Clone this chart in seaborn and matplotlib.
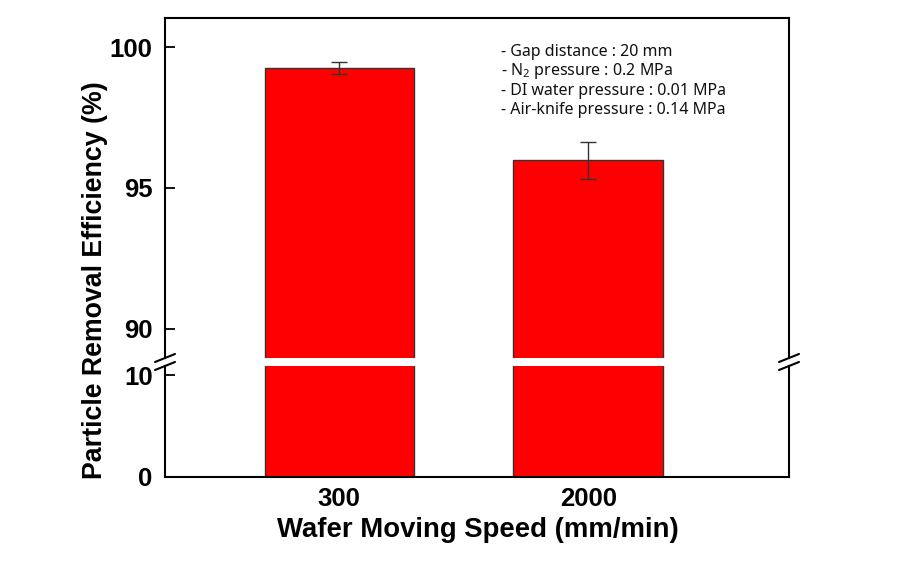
import matplotlib
matplotlib.use("Agg")
import matplotlib.pyplot as plt
import seaborn as sns
import pandas as pd
from matplotlib.lines import Line2D

# ---- data ----
speeds = ["300", "2000"]
efficiency = [99.26, 95.98]
errors = [0.22, 0.65]
upper_ticks = [90, 95, 100]
lower_ticks = [0, 10]
notes = ["- Gap distance : 20 mm",
         "- N$_2$ pressure : 0.2 MPa",
         "- DI water pressure : 0.01 MPa",
         "- Air-knife pressure : 0.14 MPa"]

sns.set_style("white")
plt.rcParams["font.family"] = ["Liberation Sans", "DejaVu Sans"]
plt.rcParams["mathtext.fontset"] = "custom"
plt.rcParams["mathtext.rm"] = "Noto Sans"
plt.rcParams["text.color"] = "black"
plt.rcParams["ytick.left"] = True
plt.rcParams["xtick.bottom"] = True
plt.rcParams["ytick.direction"] = "in"
plt.rcParams["xtick.direction"] = "in"
plt.rcParams["ytick.major.size"] = 7
plt.rcParams["ytick.major.width"] = 1.3
plt.rcParams["xtick.major.size"] = 7
plt.rcParams["xtick.major.width"] = 1.3
plt.rcParams["axes.axisbelow"] = False

df = pd.DataFrame({"speed": speeds, "eff": efficiency})

W, H = 916, 584
fig = plt.figure(figsize=(W / 100, H / 100), dpi=100)

def fx(px):
    return px / W

def fy(py):
    return 1 - py / H

left, right = 165, 789
ax_up = fig.add_axes([fx(left), fy(358), fx(right - left), fy(18) - fy(358)])
ax_lo = fig.add_axes([fx(left), fy(477), fx(right - left), fy(366) - fy(477)])

TICK_FS = 18.5
for ax in (ax_up, ax_lo):
    sns.barplot(data=df, x="speed", y="eff", order=speeds, ax=ax,
                color="#FF0000", saturation=1, width=0.6,
                edgecolor="#333333", linewidth=1.0, errorbar=None)
    ax.set_xlim(-0.70, 1.807)
    ax.set_xlabel("")
    ax.set_ylabel("")
    for s in ax.spines.values():
        s.set_color("black")
        s.set_linewidth(1.5)
    ax.tick_params(axis="both", which="major", direction="in", length=7, width=1.3,
                   labelsize=TICK_FS, pad=9, color="black", labelcolor="black",
                   left=True, bottom=True, right=False, top=False)

ax_up.errorbar([0, 1], efficiency, yerr=errors, fmt="none",
               ecolor="#333333", elinewidth=1.0, capsize=6, capthick=1.0)

ax_up.set_ylim(88.97, 101.03)
ax_up.set_yticks(upper_ticks)
ax_up.set_yticklabels([str(t) for t in upper_ticks], fontweight="bold", fontsize=TICK_FS)
ax_up.spines["bottom"].set_visible(False)
ax_up.tick_params(axis="x", bottom=False, labelbottom=False)

ax_lo.set_ylim(0, 10.9)
ax_lo.set_yticks(lower_ticks)
ax_lo.set_yticklabels([str(t) for t in lower_ticks], fontweight="bold", fontsize=TICK_FS)
ax_lo.spines["top"].set_visible(False)
ax_lo.set_xticks([0, 1])
ax_lo.set_xticklabels(speeds, fontweight="bold", fontsize=TICK_FS)
ax_lo.tick_params(axis="x", pad=7, bottom=False)

# break marks
for xs in (left, right):
    for ys in (358, 366):
        fig.add_artist(Line2D([fx(xs - 10), fx(xs + 10)], [fy(ys + 4), fy(ys - 4)],
                              color="black", lw=1.5, transform=fig.transFigure))

# labels
fig.text(fx(95), fy(280), "Particle Removal Efficiency (%)", rotation=90,
         ha="center", va="center", fontsize=19.3, fontweight="bold", color="black")
fig.text(fx(478), fy(530), "Wafer Moving Speed (mm/min)",
         ha="center", va="center", fontsize=19.8, fontweight="bold", color="black")

# notes
for i, t in enumerate(notes):
    fig.text(fx(501), fy(52 + 19.3 * i), t, ha="left", va="center",
             fontsize=11.5, family=["Noto Sans", "DejaVu Sans"], color="#111111")

fig.savefig("out.png", dpi=100, facecolor="white")
